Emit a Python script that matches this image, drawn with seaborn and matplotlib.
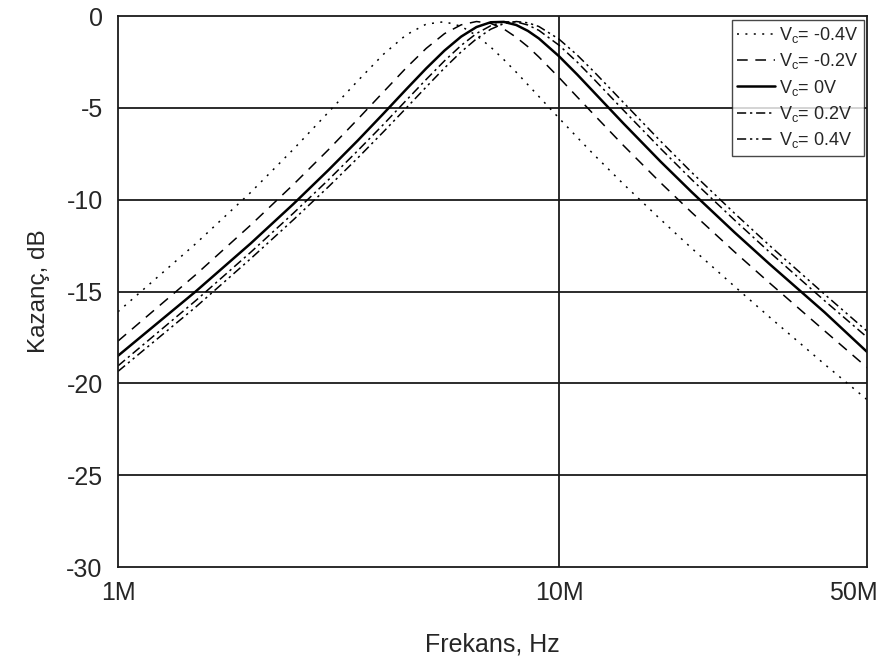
import numpy as np
import pandas as pd
import matplotlib
matplotlib.use("Agg")
import matplotlib.pyplot as plt
import matplotlib.transforms as mtransforms
import seaborn as sns

# frequency points (MHz) and gain readings (dB) for each control voltage
freq_mhz = [1, 1.5, 2, 2.5, 3, 3.5, 4, 4.5, 5, 5.5, 6, 6.5, 7, 7.5, 8, 8.5, 9,
            10, 11, 12, 14, 17, 20, 25, 30, 40, 50]

gain_m04 = [-16.1, -12.4, -9.6, -7.25, -5.24, -3.52, -2.08, -1.03, -0.44, -0.31,
            -0.56, -1.06, -1.69, -2.38, -3.06, -3.74, -4.38, -5.56, -6.61, -7.55,
            -9.15, -11.08, -12.65, -14.72, -16.39, -18.96, -20.9]
gain_m02 = [-17.7, -14.09, -11.38, -9.17, -7.28, -5.61, -4.13, -2.83, -1.76, -0.96,
            -0.48, -0.30, -0.40, -0.71, -1.16, -1.67, -2.23, -3.35, -4.41, -5.37,
            -7.05, -9.08, -10.70, -12.84, -14.53, -17.14, -19.15]
gain_0 = [-18.5, -15.0, -12.38, -10.23, -8.39, -6.77, -5.31, -4.00, -2.85, -1.88,
          -1.12, -0.60, -0.34, -0.32, -0.49, -0.81, -1.22, -2.19, -3.19, -4.15,
          -5.85, -7.93, -9.59, -11.78, -13.50, -16.13, -18.3]
gain_p02 = [-19.05, -15.50, -12.86, -10.73, -8.92, -7.32, -5.90, -4.60, -3.45, -2.44,
            -1.60, -0.95, -0.53, -0.32, -0.32, -0.49, -0.78, -1.59, -2.51, -3.44,
            -5.13, -7.22, -8.91, -11.11, -12.85, -15.50, -17.50]
gain_p04 = [-19.35, -15.85, -13.21, -11.09, -9.30, -7.72, -6.30, -5.02, -3.86, -2.83,
            -1.95, -1.24, -0.72, -0.41, -0.30, -0.37, -0.57, -1.26, -2.13, -3.03,
            -4.71, -6.82, -8.52, -10.74, -12.49, -15.15, -17.17]

labels = [r"V$_\mathregular{c}$= -0.4V", r"V$_\mathregular{c}$= -0.2V",
          r"V$_\mathregular{c}$= 0V", r"V$_\mathregular{c}$= 0.2V",
          r"V$_\mathregular{c}$= 0.4V"]
series = [gain_m04, gain_m02, gain_0, gain_p02, gain_p04]
styles = [(0, (1.3, 4.2)), (0, (7, 5)), "-", (0, (6, 2.5, 1.5, 2.5)),
          (0, (6, 2.5, 1.5, 2.5, 1.5, 2.5))]
widths = [1.1, 1.1, 1.8, 1.1, 1.1]

sns.set_style("white")
plt.rcParams['font.family'] = ['Liberation Sans', 'DejaVu Sans']
plt.rcParams['mathtext.fontset'] = 'custom'
plt.rcParams['mathtext.rm'] = 'Liberation Sans'

fig = plt.figure(figsize=(8.85, 6.7), dpi=100)
ax = fig.add_axes([0.1333, 0.1537, 0.8467, 0.8224])

freq_hz = np.array(freq_mhz) * 1e6
for lab, g, ls, lw in zip(labels, series, styles, widths):
    df = pd.DataFrame({'f': freq_hz, 'gain': g})
    sns.lineplot(data=df, x='f', y='gain', ax=ax, color='black',
                 linestyle=ls, linewidth=lw, label=lab)

ax.set_xscale('log')
ax.set_xlim(1e6, 50e6)
ax.set_ylim(-30, 0)
ax.set_xticks([1e6, 10e6, 50e6])
ax.set_xticklabels(['1M', '10M', '50M'])
ax.xaxis.set_minor_locator(matplotlib.ticker.NullLocator())
ax.set_yticks(np.arange(-30, 1, 5))
ax.set_yticklabels([str(v) for v in range(-30, 1, 5)])

for y in range(-25, 0, 5):
    ax.axhline(y, color='#1a1a1a', lw=1.3, zorder=1)
ax.axvline(10e6, color='#1a1a1a', lw=1.3, zorder=1)

for s in ax.spines.values():
    s.set_color('#1a1a1a')
    s.set_linewidth(1.3)

ax.tick_params(axis='y', which='major', labelsize=18, length=9,
               width=1.2, color='#1a1a1a', direction='out', pad=2)
ax.tick_params(axis='x', which='major', labelsize=18, length=14,
               width=1.2, color='#1a1a1a', direction='inout', pad=3)

# last x label sits left of its tick so it stays inside the figure
last = ax.get_xticklabels()[-1]
last.set_horizontalalignment('right')
last.set_transform(last.get_transform() +
                   mtransforms.ScaledTranslation(10 / 100, 0, fig.dpi_scale_trans))

ax.set_xlabel('Frekans, Hz', fontsize=18, labelpad=20)
ax.set_ylabel('Kazanç, dB', fontsize=17.5, labelpad=12)

leg = ax.legend(loc='upper right', fontsize=13, frameon=True, fancybox=False,
                edgecolor='#1a1a1a', handlelength=2.1, handletextpad=0.2,
                borderaxespad=0.2, labelspacing=0.35, borderpad=0.3)
leg.get_frame().set_linewidth(1.0)

fig.savefig('out.png', dpi=100)
